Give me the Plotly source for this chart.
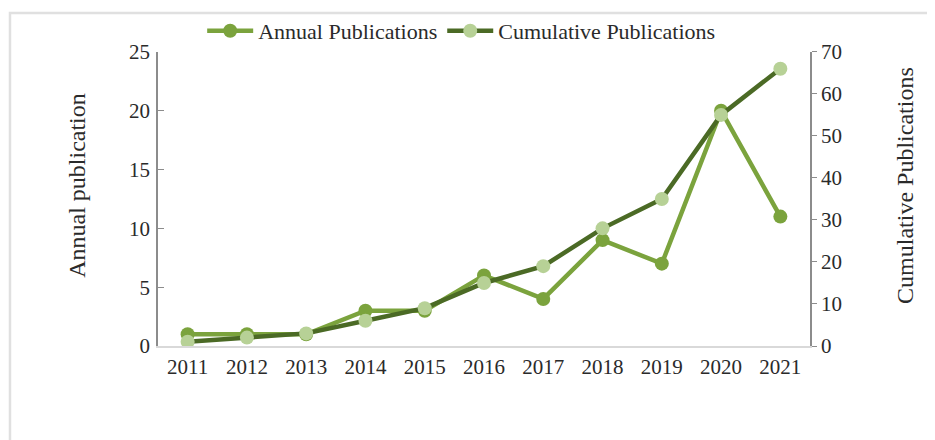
import plotly.graph_objects as go

years = ["2011", "2012", "2013", "2014", "2015", "2016", "2017", "2018", "2019", "2020", "2021"]
annual = [1, 1, 1, 3, 3, 6, 4, 9, 7, 20, 11]
cumulative = [1, 2, 3, 6, 9, 15, 19, 28, 35, 55, 66]

FONT = "Liberation Serif"
TXT = "#2a2a2a"
fig = go.Figure()
fig.add_trace(go.Scatter(
    x=years, y=annual, name="Annual Publications", mode="lines+markers",
    line=dict(color="#7ba33d", width=4.5),
    marker=dict(color="#7ba33d", size=14),
    yaxis="y"))
fig.add_trace(go.Scatter(
    x=years, y=cumulative, name="Cumulative Publications", mode="lines+markers",
    line=dict(color="#4b6a25", width=4.5),
    marker=dict(color="#b7d196", size=14),
    yaxis="y2"))

fig.update_layout(
    width=935, height=440,
    margin=dict(l=150, r=133, t=43, b=102),
    paper_bgcolor="white", plot_bgcolor="white",
    font=dict(family=FONT, size=21, color=TXT),
    showlegend=True,
    legend=dict(orientation="h", x=0.465, xanchor="center",
                yref="container", y=0.948, yanchor="middle",
                bgcolor="rgba(0,0,0,0)",
                font=dict(family=FONT, size=22, color=TXT),
                itemwidth=46, tracegroupgap=0),
    xaxis=dict(type="category", range=[-0.5, 10.5], showline=True, linecolor="#d9d9d9",
               linewidth=2, ticks="", showgrid=False, tickfont=dict(size=21),
               ticklabelstandoff=1, automargin=False),
    yaxis=dict(range=[0, 25], dtick=5, showline=True, linecolor="#8c8c8c", linewidth=1.5,
               ticks="inside", ticklen=6, tickcolor="#8c8c8c", showgrid=False,
               zeroline=False, tickfont=dict(size=21), automargin=False,
               ticklabelstandoff=2),
    yaxis2=dict(range=[0, 70], dtick=10, overlaying="y", side="right", showline=True,
                linecolor="#8c8c8c", linewidth=1.5, ticks="outside", ticklen=5,
                tickcolor="#8c8c8c", showgrid=False, zeroline=False, automargin=False,
                tickfont=dict(size=21)),
    annotations=[
        dict(text="Annual publication", xref="paper", yref="paper", x=-0.124, y=0.545,
             textangle=-90, showarrow=False, font=dict(size=24, color=TXT),
             xanchor="center", yanchor="middle"),
        dict(text="Cumulative Publications", xref="paper", yref="paper", x=1.146, y=0.545,
             textangle=-90, showarrow=False, font=dict(size=24, color=TXT),
             xanchor="center", yanchor="middle"),
    ],
    shapes=[dict(type="rect", xref="paper", yref="paper", x0=-0.227, y0=-0.4,
                 x1=1.3, y1=1.132, line=dict(color="#e0e0e0", width=2.5),
                 layer="below")],
)

fig.write_html("out.html")
